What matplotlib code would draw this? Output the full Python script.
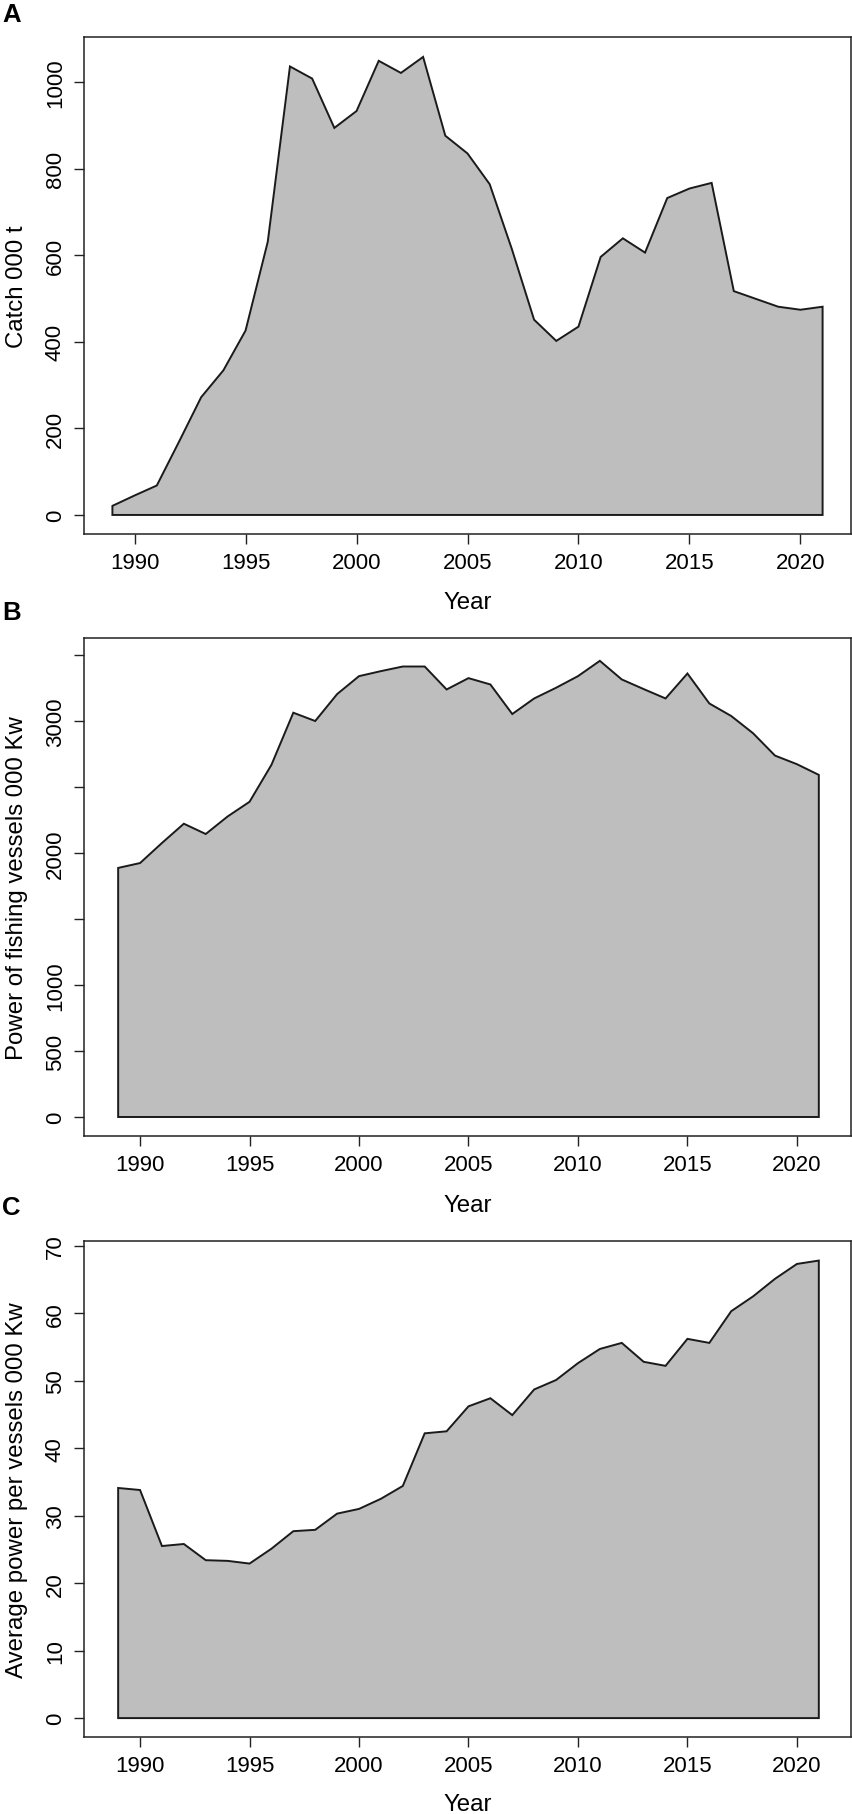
import numpy as np
import matplotlib
matplotlib.use("Agg")
import matplotlib.pyplot as plt

plt.rcParams['font.family'] = ['Liberation Sans', 'DejaVu Sans']

years = np.arange(1989, 2022)

# catch, 000 t
catch = [21, 45, 68, 169, 272, 334, 426, 631, 1036, 1008, 894, 933, 1049, 1021, 1058,
         876, 835, 764, 614, 451, 402, 435, 596, 639, 606, 732, 754, 767, 517, 499, 481, 474, 481]

# power of fishing vessels, 000 Kw
power = [1887, 1924, 2076, 2222, 2144, 2277, 2388, 2668, 3063, 3000, 3204, 3340, 3378, 3413, 3413,
         3239, 3325, 3277, 3053, 3171, 3252, 3340, 3456, 3315, 3242, 3171, 3360, 3133, 3038, 2907,
         2738, 2673, 2592]

# average power per vessel
avg_power = [34.1, 33.8, 25.5, 25.8, 23.4, 23.3, 22.9, 25.1, 27.7, 27.9, 30.3, 31.0, 32.5, 34.4, 42.2,
             42.5, 46.2, 47.4, 44.9, 48.7, 50.1, 52.6, 54.7, 55.6, 52.8, 52.2, 56.2, 55.6, 60.3, 62.5,
             65.1, 67.3, 67.8]

W, H = 853, 1815
fig = plt.figure(figsize=(W / 100, H / 100), dpi=100)

FILL = '#bebebe'
EDGE = '#1a1a1a'


def make_panel(top, bottom, vals, ylabel, letter, letter_y, year_y, yticks, ytick_labels, ylim, xlim):
    ax = fig.add_axes([84 / W, 1 - bottom / H, (851 - 84) / W, (bottom - top) / H])
    xs = np.r_[years, years[::-1]]
    ys = np.r_[vals, np.zeros(len(vals))]
    ax.fill(xs, ys, facecolor=FILL, edgecolor=EDGE, linewidth=1.4)
    ax.set_xlim(*xlim)
    ax.set_ylim(*ylim)
    ax.set_xticks(range(1990, 2021, 5))
    ax.set_yticks(yticks)
    ax.set_yticklabels(ytick_labels, rotation=90, va='center')
    ax.tick_params(length=7, width=1, labelsize=16, pad=6, color='#222222')
    for sp in ax.spines.values():
        sp.set_linewidth(1.1)
        sp.set_color('#222222')
    fig.text(17 / W, 1 - (top + bottom) / 2 / H, ylabel, rotation=90,
             ha='center', va='center', fontsize=17.3)
    fig.text(2 / W, 1 - letter_y / H, letter, ha='left', va='center',
             fontsize=18.5, fontweight='bold')
    fig.text(468 / W, 1 - year_y / H, 'Year', ha='center', va='center', fontsize=17.3)
    return ax


make_panel(38, 535, catch, 'Catch 000 t', 'A', 15, 603,
           [0, 200, 400, 600, 800, 1000], ['0', '200', '400', '600', '800', '1000'],
           (-44, 1104), (1987.72, 2022.28))

make_panel(639, 1137, power, 'Power of fishing vessels 000 Kw', 'B', 613, 1206,
           [0, 500, 1000, 1500, 2000, 2500, 3000, 3500],
           ['0', '500', '1000', '', '2000', '', '3000', ''],
           (-144, 3629), (1987.44, 2022.47))

make_panel(1242, 1738, avg_power, 'Average power per vessels 000 Kw', 'C', 1208, 1805,
           [0, 10, 20, 30, 40, 50, 60, 70], ['0', '10', '20', '30', '40', '50', '60', '70'],
           (-2.8, 70.7), (1987.44, 2022.47))

fig.savefig('out.png', dpi=100)
